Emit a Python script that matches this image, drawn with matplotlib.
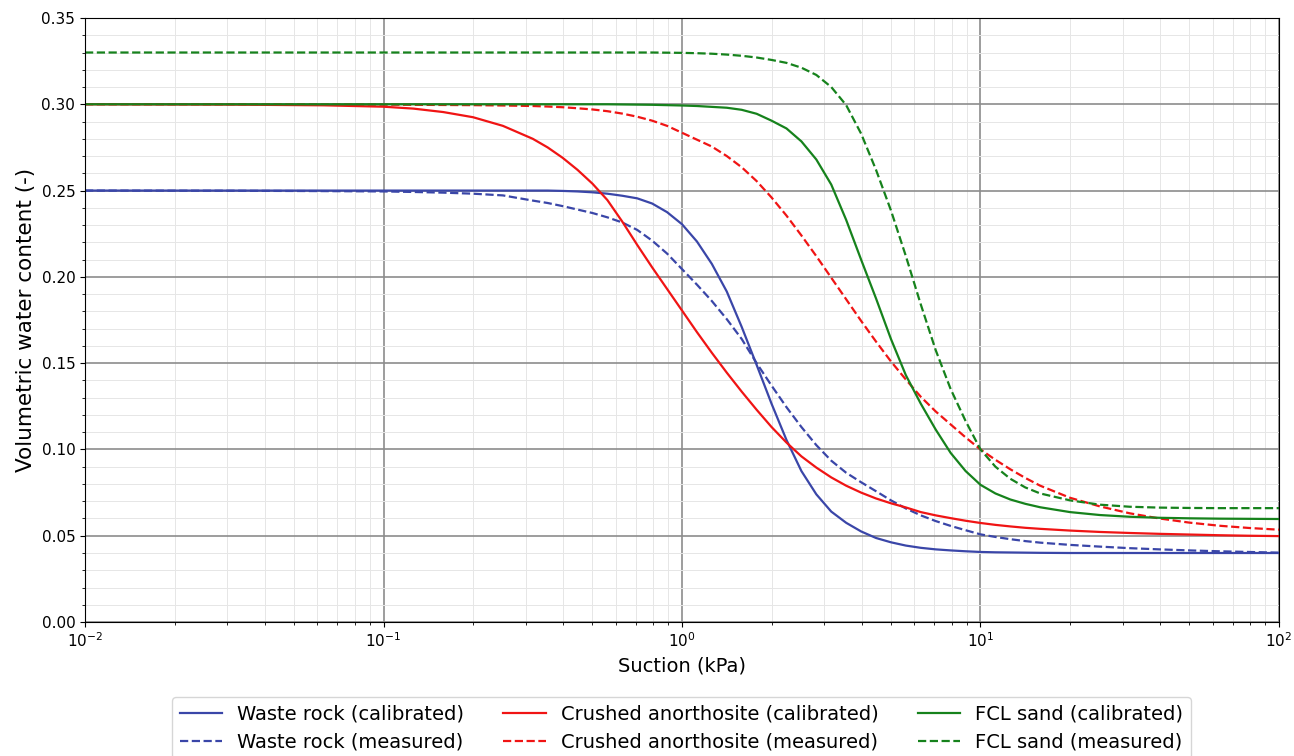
import numpy as np
import matplotlib
matplotlib.use("Agg")
import matplotlib.pyplot as plt
from matplotlib.ticker import MultipleLocator, LogLocator, FormatStrFormatter

log_suction = [-2.0, -1.5, -1.2, -1.0, -0.9, -0.8, -0.7, -0.6, -0.5,
               -0.45, -0.4, -0.35, -0.3, -0.25, -0.2, -0.15, -0.1, -0.05, 0.0,
               0.05, 0.1, 0.15, 0.2, 0.25, 0.3, 0.35, 0.4, 0.45, 0.5,
               0.55, 0.6, 0.65, 0.7, 0.75, 0.8, 0.85, 0.9, 0.95, 1.0,
               1.05, 1.1, 1.15, 1.2, 1.3, 1.4, 1.5, 1.6, 1.7, 1.8, 1.9, 2.0]

waste_cal = [0.250, 0.250, 0.250, 0.250, 0.250, 0.250, 0.250, 0.250, 0.250,
             0.250, 0.2498, 0.2495, 0.249, 0.2482, 0.247, 0.2455, 0.2425, 0.2375, 0.2305,
             0.2205, 0.2075, 0.1915, 0.171, 0.149, 0.1265, 0.1055, 0.0875, 0.074, 0.064,
             0.0575, 0.0525, 0.0487, 0.0462, 0.0443, 0.043, 0.0421, 0.0415, 0.041, 0.0406,
             0.0404, 0.0403, 0.0402, 0.0401, 0.040, 0.040, 0.040, 0.040, 0.040, 0.040, 0.040, 0.040]
waste_meas = [0.250, 0.2499, 0.2497, 0.2495, 0.2492, 0.2488, 0.2482, 0.2472, 0.2442,
              0.2428, 0.241, 0.239, 0.237, 0.2345, 0.2315, 0.2272, 0.221, 0.2135, 0.2045,
              0.1955, 0.186, 0.1755, 0.164, 0.150, 0.137, 0.1245, 0.113, 0.1025, 0.0935,
              0.0865, 0.081, 0.0758, 0.0705, 0.0658, 0.0618, 0.0585, 0.0557, 0.0532, 0.0508,
              0.0493, 0.048, 0.0469, 0.046, 0.0447, 0.0437, 0.0428, 0.0421, 0.0415, 0.041, 0.0406, 0.0402]
anor_cal = [0.300, 0.2998, 0.2994, 0.2986, 0.2975, 0.2955, 0.2925, 0.2875, 0.280,
            0.275, 0.269, 0.262, 0.254, 0.2445, 0.232, 0.2185, 0.2055, 0.193, 0.1805,
            0.168, 0.156, 0.1445, 0.1335, 0.123, 0.113, 0.104, 0.096, 0.0895, 0.0838,
            0.079, 0.075, 0.0716, 0.0688, 0.0664, 0.0637, 0.0618, 0.0602, 0.0587, 0.0574,
            0.0563, 0.0554, 0.0546, 0.054, 0.053, 0.0522, 0.0516, 0.0511, 0.0507, 0.0503, 0.050, 0.0498]
anor_meas = [0.300, 0.300, 0.2999, 0.2998, 0.2997, 0.2996, 0.2995, 0.2993, 0.299,
             0.2987, 0.2983, 0.2977, 0.297, 0.296, 0.2946, 0.2928, 0.2905, 0.2875, 0.2835,
             0.2795, 0.2755, 0.270, 0.2635, 0.2555, 0.246, 0.2355, 0.224, 0.212, 0.1995,
             0.187, 0.1745, 0.1625, 0.151, 0.1405, 0.1305, 0.122, 0.1145, 0.107, 0.100,
             0.094, 0.0885, 0.0835, 0.079, 0.072, 0.067, 0.063, 0.060, 0.0576, 0.0558, 0.0545, 0.0535]
fcl_cal = [0.300, 0.300, 0.300, 0.300, 0.300, 0.300, 0.300, 0.300, 0.300,
           0.300, 0.300, 0.300, 0.300, 0.300, 0.2999, 0.2998, 0.2997, 0.2995, 0.2993,
           0.299, 0.2985, 0.298, 0.2968, 0.2945, 0.2905, 0.286, 0.2785, 0.268, 0.2535,
           0.233, 0.210, 0.1875, 0.164, 0.143, 0.1265, 0.1115, 0.098, 0.0875, 0.0795,
           0.0745, 0.071, 0.0685, 0.0665, 0.0637, 0.062, 0.061, 0.0604, 0.0601, 0.0599, 0.0598, 0.0597]
fcl_meas = [0.330, 0.330, 0.330, 0.330, 0.330, 0.330, 0.330, 0.330, 0.330,
            0.330, 0.330, 0.330, 0.330, 0.330, 0.330, 0.330, 0.330, 0.3299, 0.3298,
            0.3296, 0.3293, 0.3288, 0.3281, 0.3271, 0.3257, 0.324, 0.3212, 0.317, 0.310,
            0.2995, 0.283, 0.262, 0.2385, 0.212, 0.184, 0.1575, 0.135, 0.1165, 0.100,
            0.090, 0.083, 0.078, 0.0745, 0.0705, 0.068, 0.0668, 0.0663, 0.0661, 0.066, 0.066, 0.066]

blue = '#3a46a8'
red = '#f01414'
green = '#16821c'

suction = np.power(10.0, log_suction)

fig = plt.figure(figsize=(12.94, 7.56), dpi=100)
ax = fig.add_axes([0.0657, 0.1772, 0.9227, 0.7990])

lw = 1.6
ax.plot(suction, waste_cal, color=blue, lw=lw, label='Waste rock (calibrated)')
ax.plot(suction, waste_meas, color=blue, lw=lw, ls='--', label='Waste rock (measured)')
ax.plot(suction, anor_cal, color=red, lw=lw, label='Crushed anorthosite (calibrated)')
ax.plot(suction, anor_meas, color=red, lw=lw, ls='--', label='Crushed anorthosite (measured)')
ax.plot(suction, fcl_cal, color=green, lw=lw, label='FCL sand (calibrated)')
ax.plot(suction, fcl_meas, color=green, lw=lw, ls='--', label='FCL sand (measured)')

ax.set_xscale('log')
ax.set_xlim(1e-2, 1e2)
ax.set_ylim(0, 0.35)
ax.yaxis.set_major_locator(MultipleLocator(0.05))
ax.yaxis.set_minor_locator(MultipleLocator(0.01))
ax.yaxis.set_major_formatter(FormatStrFormatter('%.2f'))
ax.xaxis.set_minor_locator(LogLocator(base=10, subs=np.arange(2, 10), numticks=20))

ax.grid(which='major', color='#8c8c8c', lw=1.2)
ax.grid(which='minor', color='#e6e6e6', lw=0.7)
ax.set_axisbelow(True)
ax.tick_params(labelsize=11)

ax.set_xlabel('Suction (kPa)', fontsize=14)
ax.set_ylabel('Volumetric water content (-)', fontsize=15.5)

ax.legend(loc='upper center', bbox_to_anchor=(0.4996, -0.108), ncol=3, fontsize=14,
          columnspacing=2.0, handlelength=2.2, handletextpad=0.77, labelspacing=0.45,
          frameon=True, edgecolor='#cccccc')

fig.savefig('out.png', dpi=100)
